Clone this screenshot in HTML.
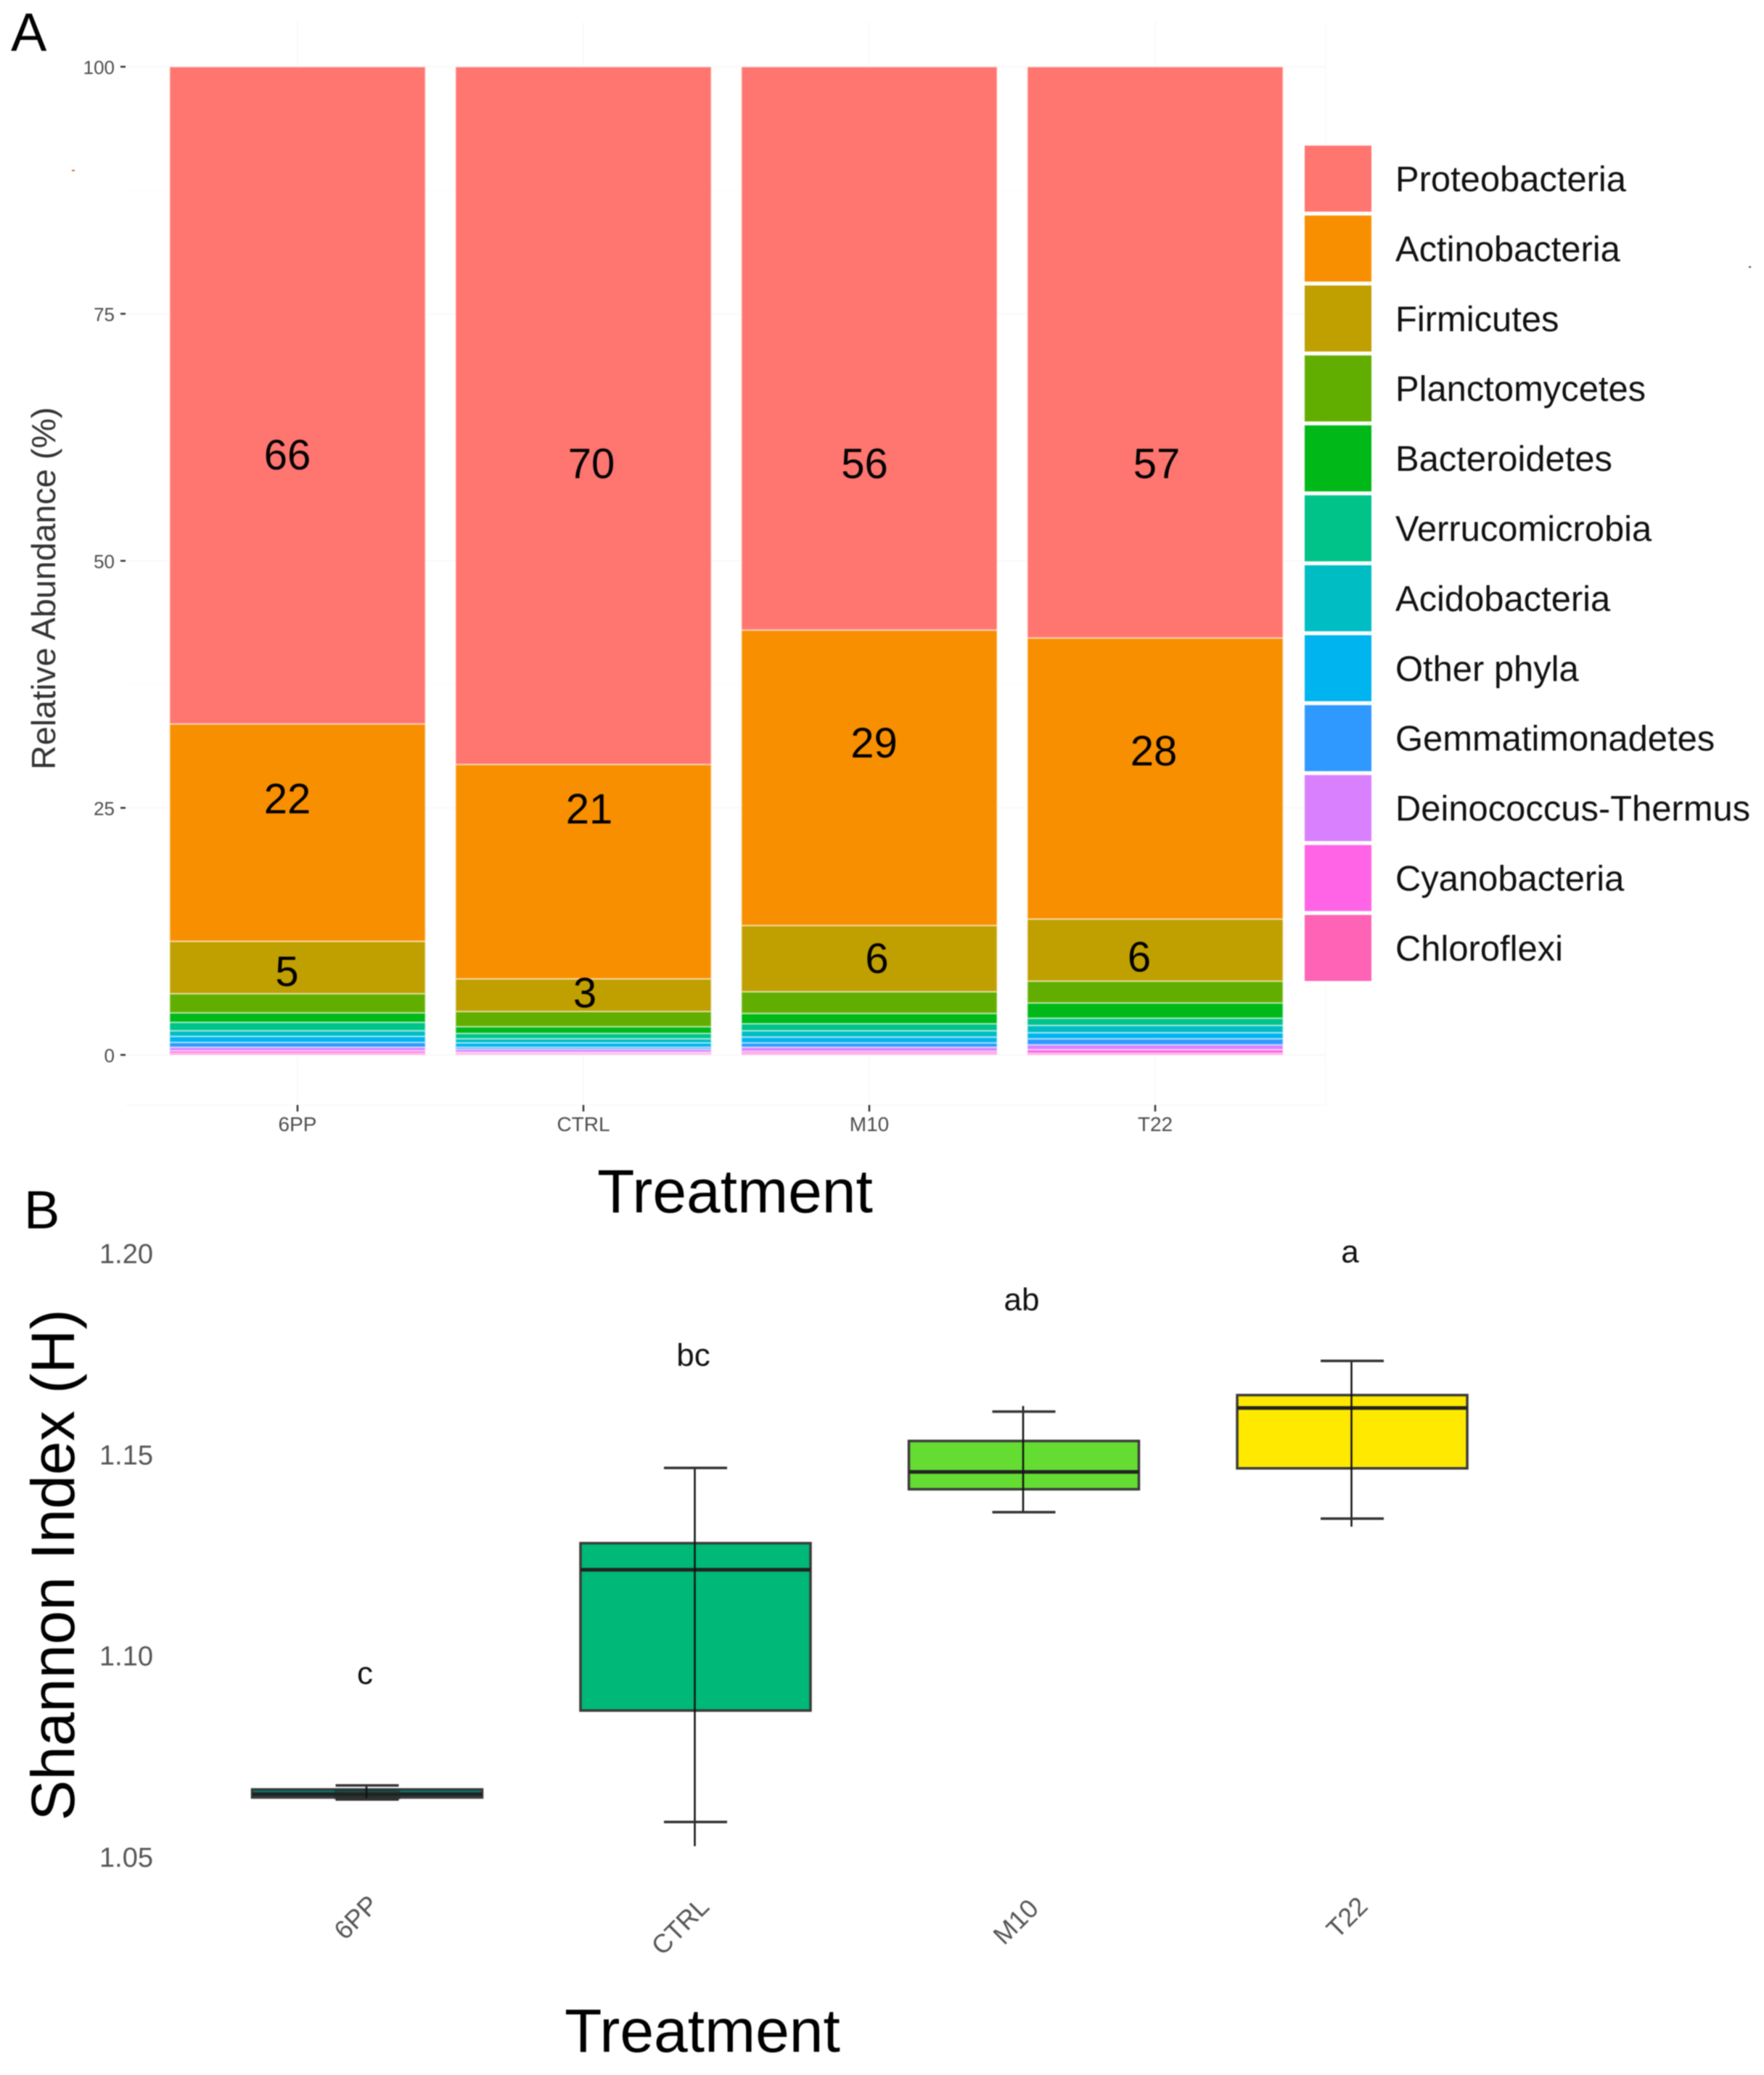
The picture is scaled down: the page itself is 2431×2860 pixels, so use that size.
<!DOCTYPE html>
<html lang="en">
<head>
<meta charset="utf-8">
<title>Relative abundance and Shannon index by treatment</title>
<style>
html,body{margin:0;padding:0;background:#fff;}
body{width:2431px;height:2860px;overflow:hidden;}
svg{display:block;font-family:"Liberation Sans",Arial,sans-serif;filter:blur(0.7px);}
</style>
</head>
<body>
<svg id="figure" xmlns="http://www.w3.org/2000/svg" width="2431" height="2860" viewBox="0 0 2431 2860">
  <rect x="0" y="0" width="2431" height="2860" fill="#ffffff"/>
  <text x="15" y="70" font-size="74" fill="#000">A</text>
  <text x="33" y="1693" font-size="74" fill="#000">B</text>
  <g id="chart-a">
    <text transform="translate(76,811) rotate(-90)" text-anchor="middle" font-size="46.6" fill="#333">Relative Abundance (%)</text>
    <text x="1013" y="1671" text-anchor="middle" font-size="84" fill="#000">Treatment</text>
  </g>
  <g id="legend"></g>
  <g id="chart-b">
    <text transform="translate(102,2157) rotate(-90)" text-anchor="middle" font-size="84" fill="#000">Shannon Index (H)</text>
    <text x="968" y="2828" text-anchor="middle" font-size="84" fill="#000">Treatment</text>
  </g>
  <rect x="99" y="234" width="4" height="2" fill="#c9702a"/>
  <rect x="2410" y="367" width="3" height="2" fill="#444"/>
</svg>
<script>
// ---------- Panel A data ----------
const categories = ['6PP', 'CTRL', 'M10', 'T22'];
const phyla = ['Proteobacteria', 'Actinobacteria', 'Firmicutes', 'Planctomycetes', 'Bacteroidetes', 'Verrucomicrobia', 'Acidobacteria', 'Other phyla', 'Gemmatimonadetes', 'Deinococcus-Thermus', 'Cyanobacteria', 'Chloroflexi'];
const proteobacteria = [66.5, 70.6, 57.0, 57.8];
const actinobacteria = [22.0, 21.7, 29.9, 28.45];
const firmicutes = [5.3, 3.3, 6.7, 6.28];
const planctomycetes = [1.94, 1.54, 2.2, 2.21];
const bacteroidetes = [0.96, 0.68, 1.04, 1.54];
const verrucomicrobia = [0.85, 0.54, 0.71, 0.73];
const acidobacteria = [0.57, 0.42, 0.64, 0.74];
const otherPhyla = [0.61, 0.44, 0.59, 0.61];
const gemmatimonadetes = [0.49, 0.2, 0.44, 0.61];
const deinococcus = [0.36, 0.3, 0.41, 0.49];
const cyanobacteria = [0.25, 0.15, 0.2, 0.37];
const chloroflexi = [0.17, 0.13, 0.17, 0.17];
const abundanceTicks = [0, 25, 50, 75, 100];
const minorAbundanceTicks = [12.5, 37.5, 62.5, 87.5];
// Printed percentages for the three largest phyla, per treatment
const printedProteo = [66, 70, 56, 57];
const printedActino = [22, 21, 29, 28];
const printedFirmi = [5, 3, 6, 6];
// Annotations were hand placed in the figure: offset from segment middle, in percent units
const proteoLabelShift = [-5.96, -4.79, -11.59, -11.19];
const actinoLabelShift = [3.49, 6.41, 3.59, 2.86];
const firmiLabelShift = [-0.33, 0.3, 0.09, -0.62];

// ---------- Panel B data ----------
const shannonTicks = [1.05, 1.10, 1.15, 1.20];
const shannonQ1 = [1.0647, 1.0863, 1.1413, 1.1465];
const shannonMedian = [1.0655, 1.1213, 1.1456, 1.1615];
const shannonQ3 = [1.0667, 1.1279, 1.1533, 1.1647];
const shannonCapLow = [1.0642, 1.0586, 1.1356, 1.1340];
const shannonCapHigh = [1.0677, 1.1466, 1.1606, 1.1732];
const shannonLineLow = [1.0642, 1.0526, 1.1356, 1.1320];
const shannonLineHigh = [1.0677, 1.1466, 1.1620, 1.1732];
const significance = ['c', 'bc', 'ab', 'a'];
const significanceLevel = [1.0929, 1.1720, 1.1858, 1.1977];

// ---------- Styles ----------
const phylumColors = ['#ff756f', '#f88f00', '#c09f00', '#62ae00', '#00b818', '#00c389', '#00bdc4', '#00b4f0', '#3099ff', '#d980ff', '#ff64e6', '#ff63b6'];
const boxColors = ['#007a70', '#00b877', '#64dc32', '#ffe900'];

const seriesByPhylum = [proteobacteria, actinobacteria, firmicutes, planctomycetes, bacteroidetes, verrucomicrobia, acidobacteria, otherPhyla, gemmatimonadetes, deinococcus, cyanobacteria, chloroflexi];

const NS = 'http://www.w3.org/2000/svg';
function make(parent, tag, attrs, text) {
  const el = document.createElementNS(NS, tag);
  for (const k in attrs) el.setAttribute(k, attrs[k]);
  if (text !== undefined) el.textContent = text;
  parent.appendChild(el);
  return el;
}
function slug(s) { return String(s).toLowerCase().replace(/[^a-z0-9]+/g, '-'); }

// Axis functions
const yA = v => 1454 - v * 13.62;
const xA = i => 410 + i * 394;
const barWidth = 352.5;
const yB = v => 2559 - (v - 1.05) * 5546;
const xB = i => 506 + i * 452.5;
const boxWidth = 317;
const capWidth = 87;

// ---------- Draw Panel A ----------
const chartA = document.getElementById('chart-a');
const gridA = make(chartA, 'g', {});


const panelLeft = 173, panelRight = 1827, panelTop = 30, panelBottom = 1523;
const panelBg = make(gridA, 'path', {d: 'M' + panelLeft + ' ' + panelBottom + 'H' + panelRight + 'V' + panelTop, fill: 'none', stroke: '#fafafa', 'stroke-width': 2});


abundanceTicks.forEach(t => {
  const g = make(gridA, 'line', {x1: panelLeft, x2: panelRight, y1: yA(t), y2: yA(t), stroke: '#f9f9f9', 'stroke-width': 2});
  
  
});
minorAbundanceTicks.forEach(t => {
  const g = make(gridA, 'line', {x1: panelLeft, x2: panelRight, y1: yA(t), y2: yA(t), stroke: '#fcfcfc', 'stroke-width': 1});
  
  
});
categories.forEach((c, i) => {
  const g = make(gridA, 'line', {x1: xA(i), x2: xA(i), y1: panelTop, y2: panelBottom, stroke: '#f9f9f9', 'stroke-width': 2});
  
  
});

abundanceTicks.forEach(t => {
  const tick = make(chartA, 'line', {x1: 166, x2: 173, y1: yA(t), y2: yA(t), stroke: '#333', 'stroke-width': 2.5});
  
  
  const lab = make(chartA, 'text', {x: 158, y: yA(t) + 10, 'text-anchor': 'end', 'font-size': 26, fill: '#4d4d4d'}, String(t));
  
  
});

categories.forEach((c, i) => {
  const group = make(chartA, 'g', {});
  
  
  let running = 0;
  const spans = [];
  for (let s = phyla.length - 1; s >= 0; s--) {
    const v = seriesByPhylum[s][i];
    spans[s] = [running, running + v];
    running += v;
  }
  for (let s = phyla.length - 1; s >= 0; s--) {
    const r = make(group, 'rect', {
      x: xA(i) - barWidth / 2, width: barWidth,
      y: yA(spans[s][1]), height: yA(spans[s][0]) - yA(spans[s][1]),
      fill: phylumColors[s], stroke: '#ffffff', 'stroke-opacity': 0.5, 'stroke-width': 2
    });
    
    
  }
  const printedSets = [printedProteo, printedActino, printedFirmi];
  const shiftSets = [proteoLabelShift, actinoLabelShift, firmiLabelShift];
  printedSets.forEach((set, s) => {
    const mid = (spans[s][0] + spans[s][1]) / 2 + shiftSets[s][i];
    const sideways = [[-14, -14, -14.5], [11, 8, 2], [-6.5, 6.5, 10.5], [2, -2, -22]][i][s];
    const t = make(group, 'text', {x: xA(i) + sideways, y: yA(mid) + 21, 'text-anchor': 'middle', 'font-size': 58, fill: '#000'}, String(set[i]));
    
    
  });
  const tick = make(chartA, 'line', {x1: xA(i), x2: xA(i), y1: 1523, y2: 1532, stroke: '#333', 'stroke-width': 2.5});
  
  
  const lab = make(chartA, 'text', {x: xA(i), y: 1559, 'text-anchor': 'middle', 'font-size': 28, fill: '#4d4d4d'}, c);
  
  
});

// ---------- Legend ----------
const legend = document.getElementById('legend');
phyla.forEach((p, i) => {
  const top = 200.7 + i * 96.4;
  const entry = make(legend, 'g', {});
  
  
  const sw = make(entry, 'rect', {x: 1798, y: top, width: 92, height: 91, fill: phylumColors[i]});
  
  
  const lab = make(entry, 'text', {x: 1923, y: top + 62.8, 'font-size': 48.9, fill: '#111'}, p);
  
  
});

// ---------- Draw Panel B ----------
const chartB = document.getElementById('chart-b');
shannonTicks.forEach(t => {
  const lab = make(chartB, 'text', {x: 137, y: yB(t) + 14, 'font-size': 38, fill: '#555'}, t.toFixed(2));
  
  
});
const xLabelNudgeX = [-15, -21, -11, -7];
const xLabelBaseY = [2643, 2655, 2649, 2643];
categories.forEach((c, i) => {
  const group = make(chartB, 'g', {});
  
  
  const cx = xB(i);
  const box = make(group, 'rect', {
    x: cx - boxWidth / 2, width: boxWidth,
    y: yB(shannonQ3[i]), height: yB(shannonQ1[i]) - yB(shannonQ3[i]),
    fill: boxColors[i], stroke: '#3a3a3a', 'stroke-width': 3.5
  });
  
  
  if (shannonQ3[i] - shannonCapLow[i] < 0.01) {
    const overlap = make(group, 'rect', {
      x: cx - capWidth / 2 - 2, width: capWidth + 4,
      y: yB(shannonQ3[i]), height: yB(shannonCapLow[i]) - yB(shannonQ3[i]),
      fill: '#222', 'fill-opacity': 0.45
    });
    
    
  }
  const med = make(group, 'line', {x1: cx - boxWidth / 2, x2: cx + boxWidth / 2, y1: yB(shannonMedian[i]), y2: yB(shannonMedian[i]), stroke: '#222', 'stroke-width': 5});
  
  
  const whisker = make(group, 'line', {x1: cx - 1, x2: cx - 1, y1: yB(shannonLineHigh[i]), y2: yB(shannonLineLow[i]), stroke: '#111', 'stroke-width': 2.5});
  
  
  const capHi = make(group, 'line', {x1: cx - capWidth / 2, x2: cx + capWidth / 2, y1: yB(shannonCapHigh[i]), y2: yB(shannonCapHigh[i]), stroke: '#333', 'stroke-width': 3.5});
  
  
  const capLo = make(group, 'line', {x1: cx - capWidth / 2, x2: cx + capWidth / 2, y1: yB(shannonCapLow[i]), y2: yB(shannonCapLow[i]), stroke: '#333', 'stroke-width': 3.5});
  
  
  const sig = make(group, 'text', {x: cx - 3, y: yB(significanceLevel[i]), 'text-anchor': 'middle', 'font-size': 44, fill: '#111'}, significance[i]);
  
  
  const lx = cx + xLabelNudgeX[i], ly = xLabelBaseY[i];
  const lab = make(chartB, 'text', {transform: 'translate(' + lx + ',' + ly + ') rotate(-45)', y: 12, 'text-anchor': 'middle', 'font-size': 36, fill: '#555'}, c);
  
  
});
</script>
</body>
</html>
